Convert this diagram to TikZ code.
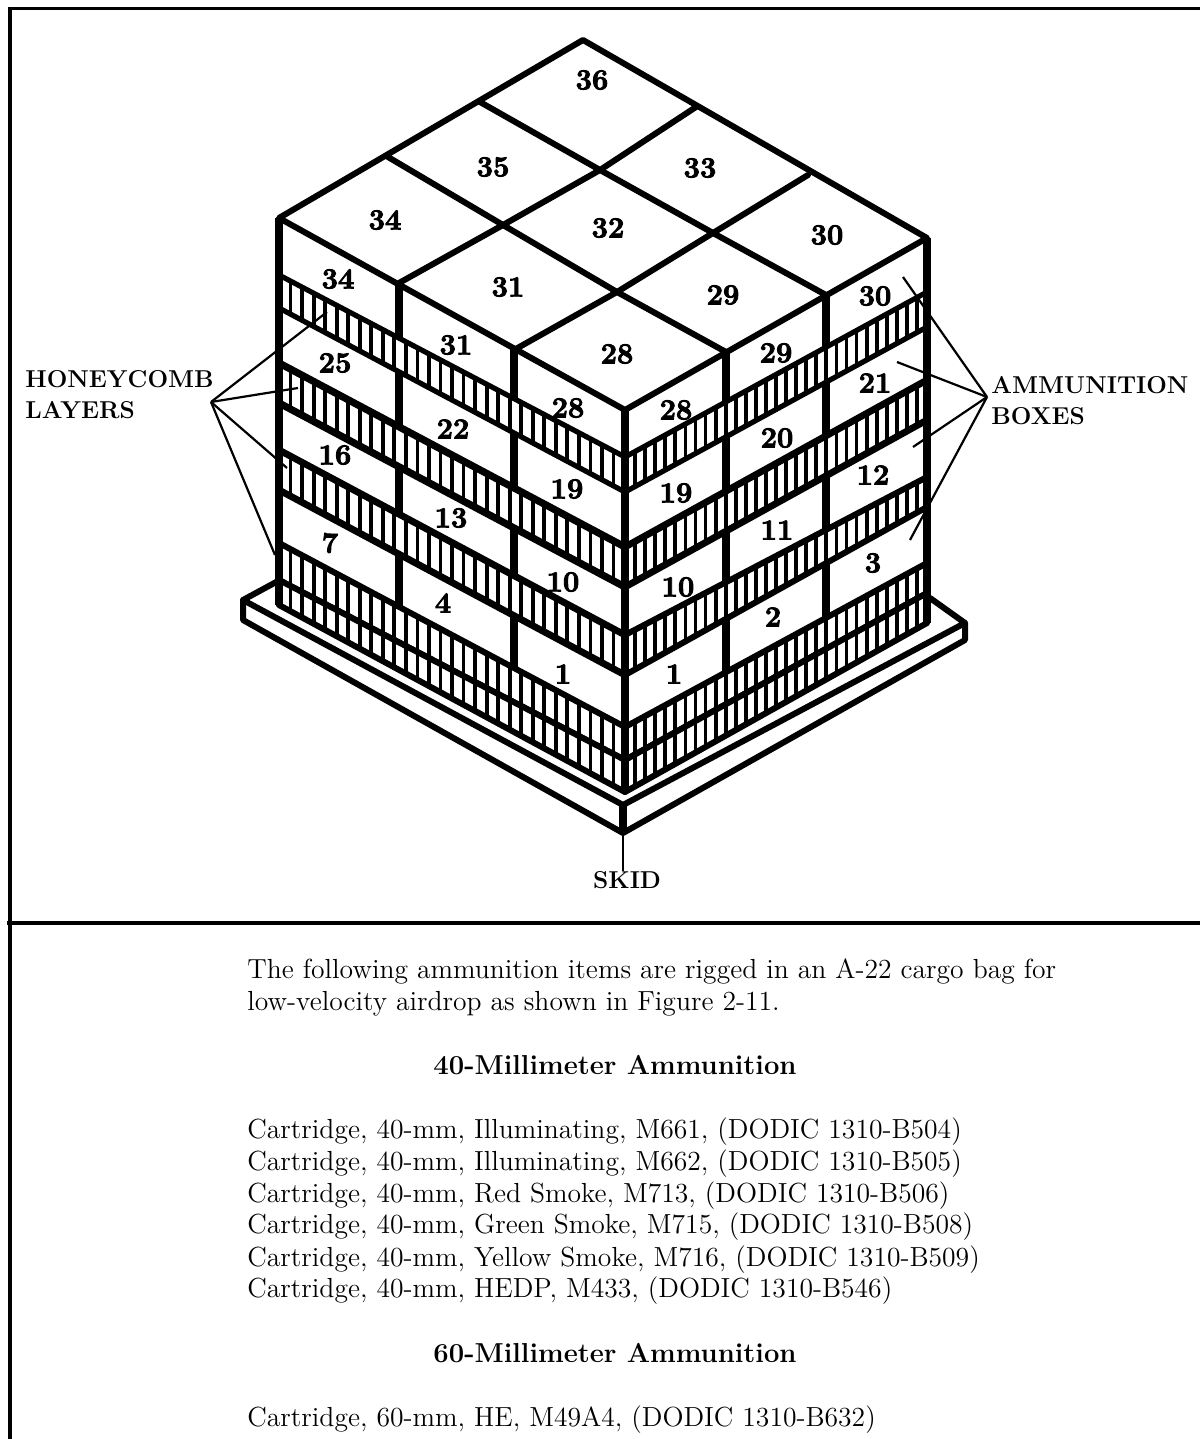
\documentclass[tikz,border=0pt]{standalone}
\usepackage{fontspec}
\usetikzlibrary{calc}
\newfontfamily\boxnofont[FakeBold=3]{Latin Modern Roman}
\tikzset{
  edge/.style={line width=3pt, line cap=round, line join=round},
  post/.style={line width=4pt},
  cell/.style={line width=1.9pt},
  leader/.style={line width=1.1pt},
  boxno/.style={inner sep=0pt, font=\boxnofont\bfseries\fontsize{14.5}{14.5}\selectfont},
  bodyline/.style={anchor=base west, inner sep=0pt, font=\fontsize{13.8}{16}\selectfont},
  headline/.style={anchor=base, inner sep=0pt, font=\bfseries\fontsize{13.7}{16}\selectfont},
  callout/.style={anchor=base west, inner sep=0pt, font=\bfseries\fontsize{12.2}{16}\selectfont},
}
\begin{document}
\begin{tikzpicture}[x=0.5pt, y=-0.5pt]
\useasboundingbox (0,0) rectangle (1200,1439);

\draw[line width=1.6pt] (10,1439) -- (10,8.5) -- (1200,8.5);
\draw[line width=1.6pt] (7,923) -- (1200,923);

\coordinate (apex) at (583,40);
\coordinate (backL) at (279,218);
\coordinate (backR) at (927,238);
\coordinate (front) at (625,410);

% skid
\draw[edge] (278,581) -- (243,600) -- (623,805) -- (965,623) -- (930,598);
\draw[edge] (243,600) -- (243,620) -- (623,833) -- (965,640) -- (965,623);
\draw[post] (623,805) -- (623,833);

% box faces, top first
\draw[edge] (backL) -- (apex) -- (backR) -- (front) -- cycle;
\draw[edge] (388,157) -- (503,225) -- (617,292) -- (726,352);
\draw[edge] (480,102) -- (600,170) -- (713,233) -- (826,295);
\draw[edge] (399,283) -- (503,225) -- (600,170) -- (696,107);
\draw[edge] (514,350) -- (617,292) -- (713,233) -- (808,175);

\foreach \x/\y/\z in {399/283/610, 514/350/672, 726/352/675, 826/295/620}
  \draw[post] (\x,\y) -- (\x,\z);

% honeycomb, left face
\foreach \a/\b/\c/\d/\w in {275/308/457/492/2.6, 363/403/547/587/3.6, 450/490/635/675/3.4, 543/580/727/760/3, 580/605/760/792/3} {
  \fill[white] (279,\a) -- (625,\c) -- (625,\d) -- (279,\b) -- cycle;
  \foreach \n [evaluate=\n as \t using \n/30] in {1,...,29}
    \draw[cell] ($(279,\a)!\t!(625,\c)$) -- ($(279,\b)!\t!(625,\d)$);
  \draw[edge, line width=\w pt] (279,\a) -- (625,\c);
  \draw[edge, line width=\w pt] (279,\b) -- (625,\d);
}
% honeycomb, right face
\foreach \a/\b/\c/\d/\w in {292/327/457/492/2.6, 380/420/547/587/3.4, 477/507/635/675/3, 563/593/727/760/3, 593/623/760/792/3} {
  \fill[white] (927,\a) -- (625,\c) -- (625,\d) -- (927,\b) -- cycle;
  \foreach \n [evaluate=\n as \t using \n/30] in {1,...,29}
    \draw[cell] ($(927,\a)!\t!(625,\c)$) -- ($(927,\b)!\t!(625,\d)$);
  \draw[edge, line width=\w pt] (927,\a) -- (625,\c);
  \draw[edge, line width=\w pt] (927,\b) -- (625,\d);
}

\draw[post] (backL) -- (279,605);
\draw[post] (front) -- (625,792);
\draw[post] (backR) -- (927,623);

\foreach \n/\x/\y in {36/592/80, 35/493/167, 33/700/168, 34/385/220, 32/608/228, 30/827/235, 31/508/287, 29/723/295, 28/617/354}
  \node[boxno] (top\n) at (\x,\y) {\n};
\foreach \n/\x/\y in {34/338/279, 31/456/345, 28/568/408, 25/335/363, 22/453/429, 19/567/489, 16/335/455, 13/451/518, 10/563/582, 7/330/543, 4/443/603, 1/563/674}
  \node[boxno] (left\n) at (\x,\y) {\n};
\foreach \n/\x/\y in {28/676/410, 29/776/353, 30/875/296, 19/676/493, 20/777/438, 21/875/383, 10/678/587, 11/777/530, 12/873/475, 1/674/674, 2/773/617, 3/873/563}
  \node[boxno] (right\n) at (\x,\y) {\n};

% callouts
\node[callout] (honeycomb) at (25,387) {HONEYCOMB};
\node[callout] (layers) at (25,418) {LAYERS};
\coordinate (honeyfan) at (211,402);
\foreach \x/\y in {327/312, 298/388, 287/468, 275/555}
  \draw[leader] (honeyfan) -- (\x,\y);

\node[callout] (ammo) at (991,393) {AMMUNITION};
\node[callout] (boxes) at (991,424) {BOXES};
\coordinate (ammofan) at (987,397);
\foreach \x/\y in {903/277, 897/362, 913/447, 910/540}
  \draw[leader] (ammofan) -- (\x,\y);

\node[callout, anchor=base] (skid) at (627,888) {SKID};
\coordinate (skidfoot) at (623,833);
\draw[leader] (skidfoot) -- (skidfoot |- skid.north);

% text below the rule
\node[bodyline] (intro1) at (247,978) {The following ammunition items are rigged in an A-22 cargo bag for};
\node[bodyline] (intro2) at (247,1010) {low-velocity airdrop as shown in Figure 2-11.};
\node[headline] (head40) at (615,1074) {40-Millimeter Ammunition};
\node[bodyline] (item1) at (247,1138) {Cartridge, 40-mm, Illuminating, M661, (DODIC 1310-B504)};
\node[bodyline] (item2) at (247,1170) {Cartridge, 40-mm, Illuminating, M662, (DODIC 1310-B505)};
\node[bodyline] (item3) at (247,1202) {Cartridge, 40-mm, Red Smoke, M713, (DODIC 1310-B506)};
\node[bodyline] (item4) at (247,1233) {Cartridge, 40-mm, Green Smoke, M715, (DODIC 1310-B508)};
\node[bodyline] (item5) at (247,1266) {Cartridge, 40-mm, Yellow Smoke, M716, (DODIC 1310-B509)};
\node[bodyline] (item6) at (247,1297) {Cartridge, 40-mm, HEDP, M433, (DODIC 1310-B546)};
\node[headline] (head60) at (615,1362) {60-Millimeter Ammunition};
\node[bodyline] (item7) at (247,1426) {Cartridge, 60-mm, HE, M49A4, (DODIC 1310-B632)};

\end{tikzpicture}
\end{document}
